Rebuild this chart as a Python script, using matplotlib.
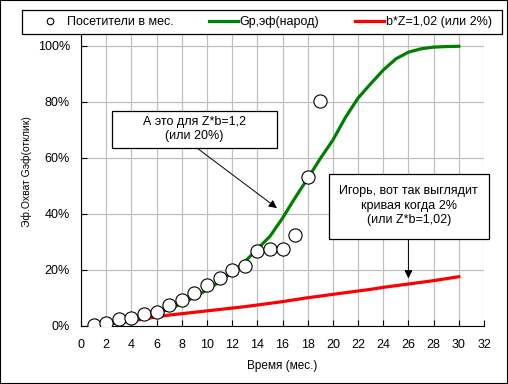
import matplotlib
matplotlib.use("Agg")
from matplotlib import pyplot as plt
from matplotlib.patches import Rectangle
from matplotlib.ticker import PercentFormatter

plt.rcParams['font.family'] = ['Liberation Sans', 'DejaVu Sans']

# посетители в месяц (доля)
months_vis = [1, 2, 3, 4, 5, 6, 7, 8, 9, 10, 11, 12, 13, 14, 15, 16, 17, 18, 19]
visitors = [0.005, 0.012, 0.025, 0.030, 0.043, 0.050, 0.076, 0.093, 0.119, 0.146,
            0.170, 0.200, 0.215, 0.269, 0.275, 0.275, 0.326, 0.531, 0.802]

# кривые по месяцам 1..30
months = list(range(1, 31))
gp_eff = [0.003, 0.008, 0.015, 0.022, 0.032, 0.044, 0.060, 0.080, 0.103, 0.129,
          0.158, 0.192, 0.229, 0.275, 0.320, 0.385, 0.458, 0.527, 0.598, 0.664,
          0.745, 0.814, 0.865, 0.914, 0.954, 0.978, 0.990, 0.996, 0.998, 0.999]
bz_102 = [0.000, 0.006, 0.012, 0.018, 0.025, 0.033, 0.039, 0.044, 0.049, 0.054,
          0.059, 0.064, 0.069, 0.075, 0.081, 0.087, 0.094, 0.101, 0.107, 0.113,
          0.119, 0.125, 0.131, 0.138, 0.144, 0.150, 0.156, 0.162, 0.169, 0.176]

fig = plt.figure(figsize=(5.08, 3.84), dpi=100)
ax = fig.add_axes([81/508, 1 - 326/384, 403/508, 308/384])

ax.plot(months, gp_eff, color='#008000', lw=2.3, zorder=3, label='Gp,эф(народ)')
ax.plot(months, bz_102, color='#ff0000', lw=2.3, zorder=3, label='b*Z=1,02 (или 2%)')
ax.plot(months_vis, visitors, 'o', ms=9.5, mfc='white', mec='black', mew=0.8,
        zorder=4, label='Посетители в мес.')

ax.set_xlim(0, 32)
ax.set_ylim(0, 1.1)
ax.set_xticks(range(0, 33, 2))
ax.set_yticks([0, 0.2, 0.4, 0.6, 0.8, 1.0])
ax.yaxis.set_major_formatter(PercentFormatter(1.0, decimals=0))
ax.grid(True, color='#c0c0c0', lw=0.9)
ax.set_axisbelow(True)
for s in ['top', 'right']:
    ax.spines[s].set_visible(False)
ax.tick_params(direction='in', length=4, labelsize=9)
ax.tick_params(axis='x', pad=9)
ax.tick_params(axis='y', pad=8)
ax.set_xlabel('Время (мес.)', fontsize=8.5, labelpad=7)
ax.set_ylabel('Эф.Охват Gэф(отклик)', fontsize=7.5, labelpad=4)

# выноски
ax.add_patch(Rectangle((2.46, 0.636), 13.1, 0.132, fc='white', ec='black',
                       lw=0.9, zorder=6, clip_on=False))
ax.text(9.0, 0.704, 'А это для Z*b=1,2\n(или 20%)', ha='center', va='center',
        fontsize=9, zorder=7, linespacing=1.25)
ax.annotate('', xy=(15.56, 0.421), xytext=(9.2, 0.636),
            arrowprops=dict(arrowstyle='-|>', color='black', lw=0.7,
                            mutation_scale=12, shrinkA=0, shrinkB=0), zorder=5)

ax.add_patch(Rectangle((19.7, 0.31), 12.66, 0.233, fc='white', ec='black',
                       lw=0.9, zorder=6, clip_on=False))
ax.text(26.03, 0.43, 'Игорь, вот так выглядит\nкривая когда 2%\n(или Z*b=1,02)',
        ha='center', va='center', fontsize=9, zorder=7, linespacing=1.25)
ax.annotate('', xy=(26.0, 0.17), xytext=(26.0, 0.31),
            arrowprops=dict(arrowstyle='-|>', color='black', lw=0.7,
                            mutation_scale=12, shrinkA=0, shrinkB=0), zorder=5)

# легенда: рамка отдельно, содержимое растянуто внутри
fig.patches.append(Rectangle((22/508, 1 - 34/384), 480/508, 24/384,
                             transform=fig.transFigure, fc='white', ec='black',
                             lw=0.9, zorder=5))
h, l = ax.get_legend_handles_labels()
order = [2, 0, 1]
leg = fig.legend([h[i] for i in order], [l[i] for i in order], ncol=3,
                 loc='center', mode='expand',
                 bbox_to_anchor=(36/508, 1 - 34/384, 456/508, 24/384),
                 fontsize=9, markerscale=0.5, handlelength=2.3,
                 handletextpad=0.15, borderpad=0.0, borderaxespad=0,
                 frameon=False)

fig.patches.append(Rectangle((0, 0), 1, 1, transform=fig.transFigure, fill=False,
                             ec='black', lw=1.5))

fig.savefig('out.png', dpi=100)
